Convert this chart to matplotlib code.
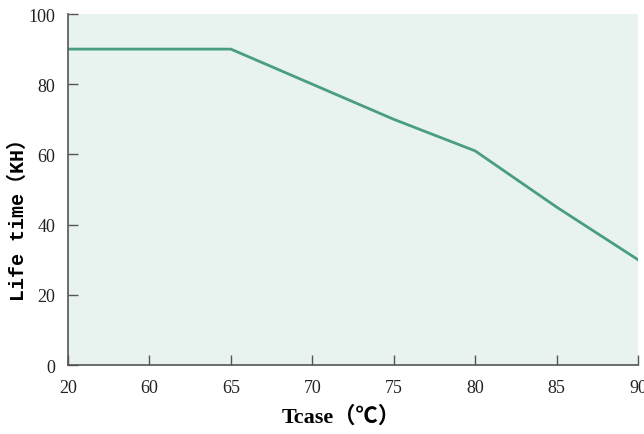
import matplotlib.pyplot as plt

# ==================== DATA ====================
tcase_labels = ['20', '60', '65', '70', '75', '80', '85', '90']
life_time_kh = [90, 90, 90, 80, 70, 61, 45, 30]
y_ticks = [0, 20, 40, 60, 80, 100]

fonts = ['Liberation Serif', 'Noto Sans CJK SC', 'DejaVu Sans']
plt.rcParams['font.family'] = fonts

fig = plt.figure(figsize=(6.44, 4.35), dpi=100)
ax = fig.add_axes([0.1056, 0.1586, 0.8851, 0.8069])
ax.set_facecolor('#e8f2ee')

x = list(range(len(tcase_labels)))
ax.plot(x, life_time_kh, color='#4a9e80', linewidth=2)

ax.set_xlim(0, len(tcase_labels) - 1)
ax.set_ylim(0, 100)
ax.set_xticks(x)
ax.set_xticklabels(tcase_labels)
ax.set_yticks(y_ticks)

ax.tick_params(direction='in', length=7, width=1, color='#555555',
               labelsize=13, labelcolor='#222222')
ax.tick_params(axis='x', pad=10)
ax.tick_params(axis='y', pad=9)

for side in ['top', 'right']:
    ax.spines[side].set_visible(False)
for side in ['left', 'bottom']:
    ax.spines[side].set_color('#555555')
    ax.spines[side].set_linewidth(1.2)

ax.set_xlabel('Tcase（℃）', fontsize=16, fontweight='bold')
ax.xaxis.set_label_coords(0.48, -0.115)
ax.set_ylabel('Life time（KH）', fontsize=14.4, fontweight='bold',
              family=['Liberation Mono', 'Noto Sans CJK SC', 'DejaVu Sans'])
ax.yaxis.set_label_coords(-0.07, 0.43)

fig.savefig('out.png', dpi=100)
